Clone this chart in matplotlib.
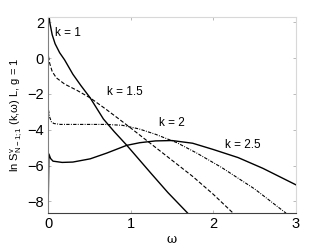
import numpy as np
import matplotlib
matplotlib.use("Agg")
import matplotlib.pyplot as plt

plt.rcParams["font.family"] = ["Liberation Sans", "DejaVu Sans"]
plt.rcParams["mathtext.fontset"] = "custom"
plt.rcParams["mathtext.rm"] = "Liberation Sans"
plt.rcParams["mathtext.it"] = "Liberation Sans"

# values
w_k1 = [0.0, 0.02, 0.05, 0.085, 0.14, 0.2, 0.3, 0.4, 0.51, 0.67, 0.8, 0.95, 1.1, 1.25, 1.45, 1.69]
s_k1 = [3.0, 2.0, 1.3, 0.8, 0.3, -0.1, -0.9, -1.55, -2.22, -3.4, -4.1, -4.85, -5.65, -6.45, -7.5, -8.65]

w_k15 = [0.005, 0.02, 0.05, 0.1, 0.2, 0.35, 0.51, 0.7, 0.87, 1.0, 1.25, 1.5, 1.75, 2.0, 2.24]
s_k15 = [0.1, -0.3, -0.75, -1.1, -1.45, -1.8, -2.22, -2.85, -3.44, -3.9, -4.8, -5.7, -6.6, -7.6, -8.65]

w_k2 = [0.005, 0.02, 0.04, 0.07, 0.15, 0.4, 0.7, 0.9, 1.1, 1.3, 1.56, 1.8, 2.1, 2.5, 2.88]
s_k2 = [-2.9, -3.3, -3.55, -3.65, -3.7, -3.7, -3.7, -3.75, -3.95, -4.25, -4.72, -5.3, -6.1, -7.3, -8.65]

w_k25 = [0.0, 0.01, 0.03, 0.06, 0.17, 0.3, 0.51, 0.71, 0.95, 1.11, 1.3, 1.5, 1.75, 2.0, 2.3, 2.6, 3.0]
s_k25 = [-8.65, -5.35, -5.6, -5.75, -5.82, -5.8, -5.62, -5.3, -4.87, -4.72, -4.62, -4.6, -4.75, -5.1, -5.55, -6.15, -7.07]

k_labels = ["k = 1", "k = 1.5", "k = 2", "k = 2.5"]
label_w = [0.24, 0.93, 1.5, 2.36]
label_s = [1.4, -1.87, -3.62, -4.83]

fig = plt.figure(figsize=(3.27, 2.45), dpi=100)
ax = fig.add_axes([0.147, 0.13, 0.758, 0.799])

ax.plot(w_k1, s_k1, color="black", lw=1.0)
ax.plot(w_k15, s_k15, color="black", lw=0.8, dashes=(3.5, 1.8))
ax.plot(w_k2, s_k2, color="black", lw=0.8, dashes=(3.0, 1.2, 0.8, 1.2))
ax.plot(w_k25, s_k25, color="black", lw=1.0)

for txt, x, y in zip(k_labels, label_w, label_s):
    ax.text(x, y, txt, fontsize=8.5, ha="center", va="center")

ax.set_xlim(0, 3)
ax.set_ylim(-8.65, 2.27)
ax.set_xticks([0, 1, 2, 3])
ax.set_yticks([-8, -6, -4, -2, 0, 2])
ax.tick_params(direction="in", length=2.5, width=0.6, labelsize=10.5,
               top=True, right=True, color="#b0b0b0", pad=3)
for side in ["top", "right"]:
    ax.spines[side].set_color("#d8d8d8")
ax.spines["left"].set_color("#808080")
ax.spines["bottom"].set_color("#404040")
for sp in ax.spines.values():
    sp.set_linewidth(0.8)

ax.set_xlabel("ω", fontsize=9, family="DejaVu Serif", labelpad=1)
ax.set_ylabel(r"ln S$^{\rm v}_{\rm N-1;1}$ (k,ω) L, g = 1", fontsize=8, labelpad=2)

fig.savefig("out.png", dpi=100)
